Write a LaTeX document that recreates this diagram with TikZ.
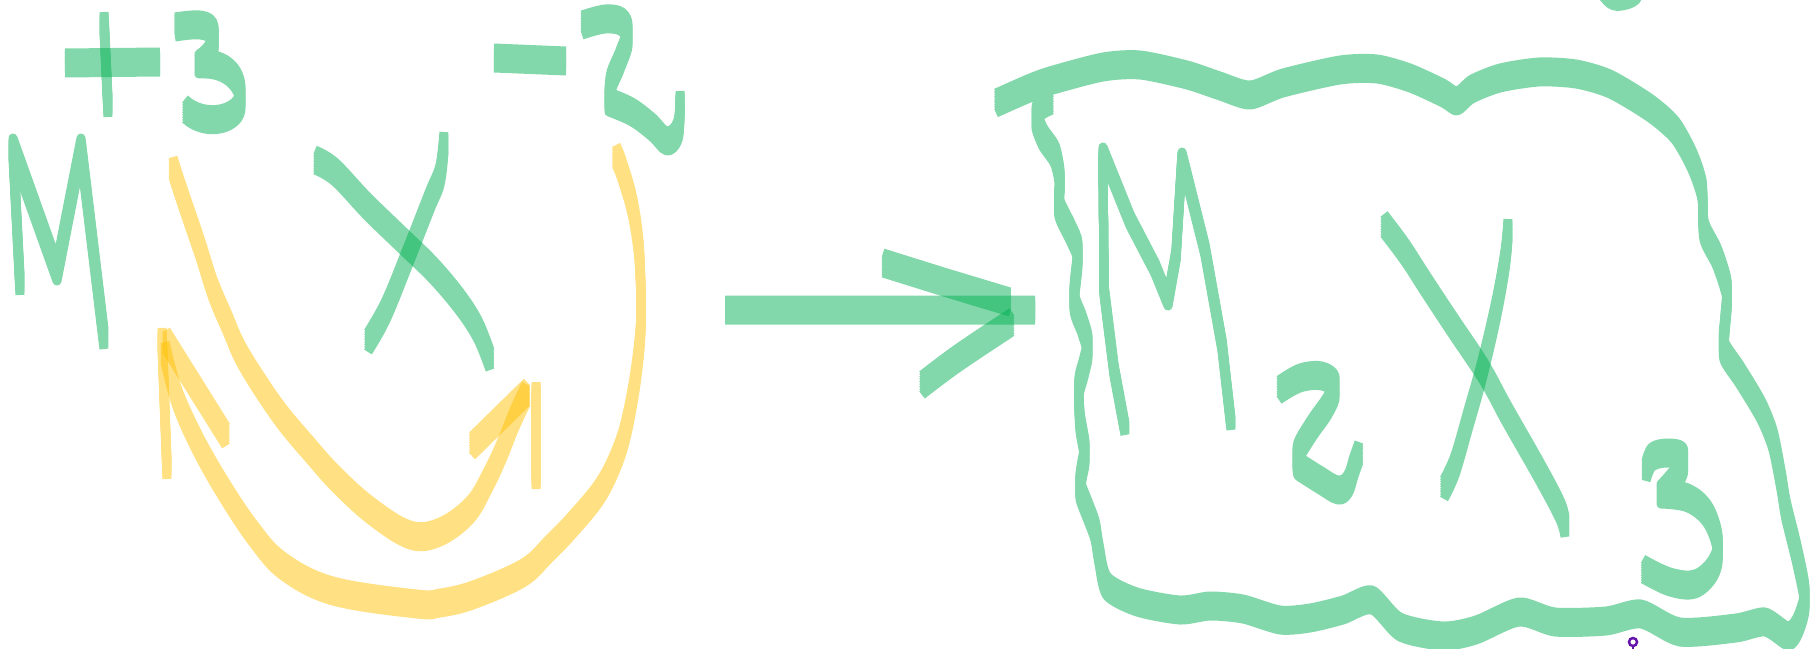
\documentclass[tikz,border=0pt]{standalone}
\usetikzlibrary{calc}
\definecolor{inkgreen}{RGB}{5,177,85}
\definecolor{hilite}{RGB}{255,193,5}
\definecolor{cursor}{RGB}{100,20,170}
% one pen stroke: flat nib of height #1, style #2, path #3
\newcommand{\penline}[3][20]{%
  \begin{scope}[transparency group, opacity=0.5]
    \foreach \d in {-0.5,-0.375,-0.25,-0.125,0,0.125,0.25,0.375,0.5}
      {\draw[#2, yshift={\d*#1pt}] #3;}
  \end{scope}}

\begin{document}
\begin{tikzpicture}[
    x=1pt, y=-1pt,
    ink/.style={draw=inkgreen, line width=9pt, line cap=butt, line join=round},
    hlmark/.style={draw=hilite, line width=9pt, line cap=butt, line join=round},
    curve/.style={smooth, tension=0.6}
  ]
  \useasboundingbox (0,0) rectangle (1819,648);

  % M^{+3}
  \penline{ink}{(20,285) -- (13,148) -- (57,271) -- (81,148) -- (104,339)}
  \penline{ink}{(65,63) -- (160,62)}
  \penline{ink}{(104,22) -- (108,107)}
  \penline{ink}{(175,27) .. controls (195,24) and (212,22) .. (214,36)
                .. controls (215,48) and (208,58) .. (199,64)
                .. controls (228,62) and (241,80) .. (241,98)
                .. controls (241,120) and (205,128) .. (185,109)}

  % X^{-2}
  \penline{ink}{plot[curve] coordinates {(315,160) (335,172) (367,206) (400,238)
                (433,270) (460,302) (478,330) (490,360)}}
  \penline{ink}{plot[curve] coordinates {(444,142) (440,175) (430,200) (408,256)
                (386,310) (368,342)}}
  \penline{ink}{(494,58) -- (566,61)}
  \penline{ink}{plot[curve] coordinates {(582,25) (605,19) (622,22) (628,36)
                (620,60) (611,82) (609,102)} -- plot[curve] coordinates {(609,102)
                (632,112) (652,127) (667,141) (678,130) (680,101)}}

  % crossing arrows
  \penline{hlmark}{plot[curve] coordinates {(173,167) (177,180) (186,207) (200,248)
                (213,289) (227,322) (240,352) (260,385) (283,418) (310,450)
                (335,478) (370,510) (410,535) (440,532) (470,510) (488,480)
                (502,450) (514,420) (526,394)}}
  \penline{hlmark}{(472,446) -- (527,392)}
  \penline{hlmark}{(536,392) -- (536,479)}
  \penline{hlmark}{plot[curve] coordinates {(616,155) (621,167) (631,200) (637,233)
                (640,267) (641,322) (636,374) (627,424) (617,457) (600,491)
                (573,524) (548,550) (523,573) (473,595) (440,603) (417,604)
                (333,591) (283,566) (253,533) (223,488) (197,442) (177,397)
                (165,352)}}
  \penline{hlmark}{(162,338) -- (167,469)}
  \penline{hlmark}{(166,340) -- (226,436)}

  % reaction arrow
  \penline{ink}{(725,310) -- (1035,310)}
  \penline{ink}{(883,263) -- (947,283) -- (1010,302)}
  \penline{ink}{plot[curve] coordinates {(922,385) (958,358) (1012,322)}}

  % bubble
  \penline{ink}{plot[smooth, tension=0.45] coordinates {(996,103) (1030,88)
                (1053,80) (1103,67) (1140,65) (1187,75) (1220,86) (1250,95)
                (1283,83) (1340,70) (1377,69) (1410,78) (1443,93) (1457,101)
                (1472,89) (1500,78) (1539,72) (1576,74) (1610,84) (1650,108)
                (1675,130) (1692,160) (1702,190) (1704,230) (1717,257) (1727,290)
                (1725,324) (1724,350) (1740,375) (1761,410) (1773,440) (1781,480)
                (1786,510) (1797,555) (1805,598) (1798,625) (1788,636) (1765,622)
                (1736,628) (1680,632) (1641,614) (1606,621) (1555,622) (1519,612)
                (1476,630) (1443,636) (1400,627) (1372,600) (1343,610) (1310,618)
                (1280,620) (1243,609) (1210,606) (1180,610) (1137,602) (1107,586)
                (1099,554) (1095,530) (1088,511) (1080,489) (1082,470) (1085,452)
                (1080,421) (1079,387) (1084,367) (1088,346) (1082,324) (1074,300)
                (1078,253) (1071,233) (1059,207) (1060,180) (1055,155) (1043,137)
                (1036,118) (1041,106) (1052,100)}}

  % M_2 X_3
  \penline[12]{ink}{(1125,429) -- (1114,370) -- (1104,290) -- (1103,153)
                -- (1130,220) -- (1155,268) -- (1168,300) -- (1176,255)
                -- (1182,158) -- (1205,250) -- (1222,345) -- (1231,424)}
  \penline{ink}{plot[curve] coordinates {(1279,390) (1300,378) (1322,376)
                (1335,386) (1328,405) (1312,428) (1298,452) (1298,466)}
                -- plot[curve] coordinates {(1298,466) (1320,480) (1338,490)
                (1348,484) (1354,466) (1359,452)}}
  \penline{ink}{plot[curve] coordinates {(1384,224) (1405,252) (1425,283)
                (1452,324) (1484,372) (1507,414) (1540,472) (1560,510) (1565,527)}}
  \penline{ink}{plot[curve] coordinates {(1508,229) (1505,260) (1496,310)
                (1482,370) (1468,420) (1455,465) (1444,489)}}
  \penline{ink}{plot[curve] coordinates {(1646,471) (1652,457) (1667,453)
                (1682,456) (1682,468) (1670,484) (1661,494)}
                -- plot[curve] coordinates {(1661,494) (1688,498) (1708,515)
                (1718,545) (1713,568) (1695,584) (1670,582) (1643,569)}}

  % stray marks
  \penline{ink}{plot[curve] coordinates {(1598,-20) (1610,-6) (1622,-4)
                (1636,-10) (1640,-25)}}
  \draw[cursor, line width=2.5pt] (1633,642) circle (4);
  \draw[cursor, line width=2.5pt] (1633,646) -- (1633,652);
\end{tikzpicture}
\end{document}
